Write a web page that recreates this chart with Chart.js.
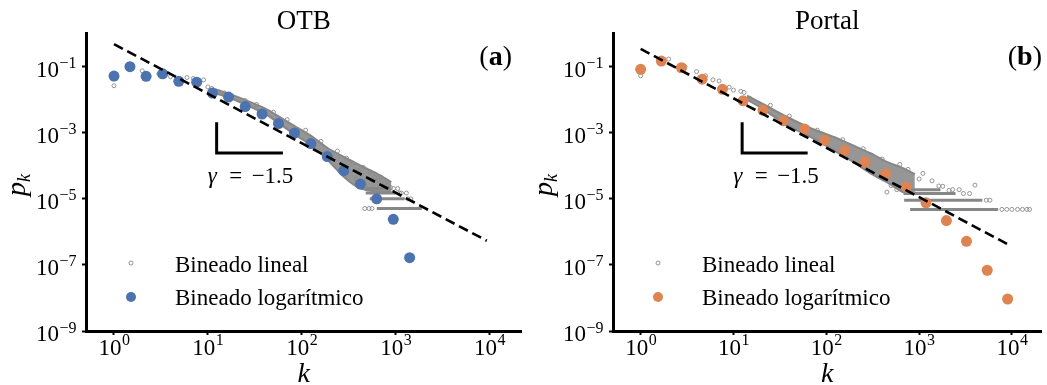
<!DOCTYPE html>
<html>
<head>
<meta charset="utf-8">
<script src="https://cdn.jsdelivr.net/npm/chart.js@4.4.0/dist/chart.umd.min.js"></script>
<style>
  html, body { margin: 0; padding: 0; background: #fff; }
  #wrap { position: relative; width: 1047px; height: 385px; overflow: hidden; }
  canvas { position: absolute; top: 0; }
</style>
</head>
<body>
<div id="wrap">
  <canvas id="otb" width="527" height="385" style="left:0"></canvas>
  <canvas id="portal" width="520" height="385" style="left:527px"></canvas>
</div>
<script>
// tick values
const xTicks = [1, 10, 100, 1000, 10000];
const yTicks = [1e-9, 1e-7, 1e-5, 1e-3, 1e-1];

// log-binned (coloured dots)
const otbLogK = [1, 1.48, 2.2, 3.3, 4.9, 7.6, 11.2, 16.6, 25, 37.8, 56.5, 83.6, 125, 187, 280, 421, 628, 944, 1409];
const otbLogP = [0.052, 0.1, 0.051, 0.061, 0.036, 0.034, 0.016, 0.012, 0.0062, 0.0037, 0.0019, 9.8e-4, 4.7e-4, 1.9e-4, 7.1e-5, 2.8e-5, 1.0e-5, 2.4e-6, 1.66e-7];
const portalLogK = [1, 1.67, 2.75, 4.6, 7.6, 12.7, 20.8, 34.6, 58.3, 96, 158, 262, 435, 728, 1187, 1969, 3242, 5420, 9000];
const portalLogP = [0.083, 0.148, 0.093, 0.042, 0.0206, 0.0093, 0.0048, 0.0023, 0.0013, 5.9e-4, 2.9e-4, 1.3e-4, 5.7e-5, 2.25e-5, 7.6e-6, 2.2e-6, 5.2e-7, 6.9e-8, 9.3e-9];

// linear binning: single visible points
const otbLinK = [1, 2, 3, 4, 5, 6, 7, 8, 9, 10, 11, 13, 15, 25, 33, 50, 70, 110, 160, 240, 300, 350,
  380, 400, 430, 450, 470, 470, 520, 560, 540, 600, 650, 700, 760, 820, 880, 950, 1050, 1100, 1150, 1300, 1350, 1450];
const otbLinP = [0.0265, 0.075, 0.06, 0.05, 0.042, 0.047, 0.044, 0.037, 0.04, 0.0245, 0.022, 0.0174, 0.016, 0.0095, 0.0072, 0.0042, 0.0025, 0.0012, 5.5e-4, 2.8e-4, 1.7e-4, 1.2e-4,
  4e-5, 7e-5, 3e-5, 9e-5, 2.5e-5, 5.1e-6, 5.1e-6, 5.1e-6, 6.5e-5, 4.5e-5, 3.5e-5, 4.5e-5, 3.0e-5, 2.6e-5, 2.2e-5, 2.05e-5, 2.05e-5, 1.5e-5, 1.5e-5, 1.5e-5, 1.0e-5, 1.0e-5];
const portalLinK = [1, 2, 3, 4, 5, 6, 7, 9, 10, 12, 13, 15, 25, 40, 80, 150, 250, 400,
  450, 500, 575, 620, 760, 1000, 1100, 1380, 1630, 1800, 2100, 2300, 2700, 3000, 3500, 4000, 5300, 5800, 7800, 8800, 10000, 11500, 13000, 14500, 15500];
const portalLinP = [0.053, 0.17, 0.1, 0.071, 0.053, 0.04, 0.037, 0.024, 0.0196, 0.018, 0.0166, 0.011, 0.0068, 0.0032, 0.0012, 6.2e-4, 3.3e-4, 1.6e-4,
  1.6e-5, 2.5e-5, 1.9e-5, 1.1e-4, 7.8e-5, 4.0e-5, 5.9e-5, 3.5e-5, 2.45e-5, 2.4e-5, 1.8e-5, 1.9e-5, 1.9e-5, 1.45e-5, 1.45e-5, 2.6e-5, 9.1e-6, 9.1e-6, 4.8e-6, 4.8e-6, 4.8e-6, 4.8e-6, 4.8e-6, 4.8e-6, 4.8e-6];

// linear binning: dense band (upper / lower edge)
const otbBandK = [12, 20, 42, 84, 130, 190, 280, 415, 620, 900];
const otbBandHi = [0.0209, 0.0126, 0.0052, 0.00158, 7.6e-4, 3.4e-4, 1.86e-4, 1.05e-4, 6.0e-5, 3.2e-5];
const otbBandLo = [0.0158, 0.0095, 0.00355, 8.9e-4, 4.0e-4, 1.48e-4, 4.7e-5, 2.1e-5, 1.66e-5, 1.66e-5];
const portalBandK = [14, 20, 38, 70, 130, 200, 300, 450, 670, 900];
const portalBandHi = [0.0132, 0.0079, 0.0030, 0.00132, 6.9e-4, 4.0e-4, 2.4e-4, 1.32e-4, 8.5e-5, 5.6e-5];
const portalBandLo = [0.01, 0.0056, 0.00166, 7.1e-4, 2.6e-4, 1.26e-4, 5.9e-5, 3.2e-5, 1.6e-5, 1.4e-5];

// linear binning: horizontal streaks at 1/N, 2/N, ...
const otbStreakP = [5.1e-6, 1.0e-5, 1.5e-5, 2.05e-5];
const otbStreakFrom = [630, 530, 480, 470];
const otbStreakTo = [1900, 1250, 1020, 850];
const portalStreakP = [4.8e-6, 9.1e-6, 1.45e-5, 1.9e-5];
const portalStreakFrom = [800, 690, 680, 650];
const portalStreakTo = [7100, 4800, 2470, 1700];

// fitted power law (dashed)
const otbFitK = [1, 9350];
const otbFitP = [0.48, 5.4e-7];
const portalFitK = [1, 9350];
const portalFitP = [0.345, 4.0e-7];

// slope marker
const slopeK = [12.4, 12.4, 63];
const slopeP = [2.1e-3, 2.43e-4, 2.43e-4];

const SERIF = "'Liberation Serif', 'DejaVu Serif', serif";
const pts = (ks, ps) => ks.map((k, i) => ({ x: k, y: ps[i] }));

const decor = {
  id: 'decor',
  afterDraw(chart, args, o) {
    const ctx = chart.ctx, xs = chart.scales.x, ys = chart.scales.y, area = chart.chartArea;
    ctx.save();
    ctx.fillStyle = '#000';
    ctx.textBaseline = 'alphabetic';
    ctx.textAlign = 'left';
    const expo = v => String(Math.round(Math.log10(v))).replace('-', '\u2212');

    xTicks.forEach(v => {
      const e = expo(v);
      ctx.font = '23px ' + SERIF; const w1 = ctx.measureText('10').width;
      ctx.font = '16px ' + SERIF; const w2 = ctx.measureText(e).width;
      const x0 = xs.getPixelForValue(v) - (w1 + w2) / 2;
      ctx.font = '23px ' + SERIF; ctx.fillText('10', x0, 355);
      ctx.font = '16px ' + SERIF; ctx.fillText(e, x0 + w1 + 0.5, 345);
    });
    yTicks.forEach(v => {
      const e = expo(v);
      const y = ys.getPixelForValue(v);
      ctx.font = '23px ' + SERIF; const w1 = ctx.measureText('10').width;
      ctx.font = '16px ' + SERIF; const w2 = ctx.measureText(e).width;
      const x0 = 76 - w1 - w2;
      ctx.font = '23px ' + SERIF; ctx.fillText('10', x0, y + 10.3);
      ctx.font = '16px ' + SERIF; ctx.fillText(e, x0 + w1 + 0.5, y + 1.5);
    });

    // title
    ctx.textAlign = 'center';
    ctx.font = '27px ' + SERIF;
    ctx.fillText(o.title, (area.left + area.right) / 2, 29);

    // panel letter
    ctx.textAlign = 'left';
    ctx.font = '28px ' + SERIF; const wp = ctx.measureText('(').width, wq = ctx.measureText(')').width;
    ctx.font = 'bold 28px ' + SERIF; const wl = ctx.measureText(o.letter).width;
    let lx = o.letterRight - wp - wl - wq;
    ctx.font = '28px ' + SERIF; ctx.fillText('(', lx, 65);
    ctx.font = 'bold 28px ' + SERIF; ctx.fillText(o.letter, lx + wp, 65);
    ctx.font = '28px ' + SERIF; ctx.fillText(')', lx + wp + wl, 65);

    // x label
    ctx.textAlign = 'center';
    ctx.font = 'italic 28px ' + SERIF;
    ctx.fillText('k', (area.left + area.right) / 2, 382);

    // y label
    ctx.save();
    ctx.translate(25, 185);
    ctx.rotate(-Math.PI / 2);
    ctx.textAlign = 'left';
    ctx.font = 'italic 28px ' + SERIF;
    ctx.fillText('p', -11, 0);
    const pw = ctx.measureText('p').width;
    ctx.font = 'italic 18px ' + SERIF;
    ctx.fillText('k', -11 + pw, 5);
    ctx.restore();

    // slope label
    const cx = xs.getPixelForValue(slopeK[1]), cy = ys.getPixelForValue(slopeP[1]);
    ctx.textAlign = 'left';
    ctx.font = 'italic 23px ' + SERIF;
    ctx.fillText('\u03b3', cx - 9, cy + 30);
    ctx.font = '23px ' + SERIF;
    ctx.textAlign = 'center';
    ctx.fillText('=', cx + 19, cy + 30);
    ctx.textAlign = 'left';
    ctx.fillText('\u22121.5', cx + 35, cy + 30);

    // legend
    ctx.beginPath();
    ctx.arc(131, 263, 2, 0, Math.PI * 2);
    ctx.strokeStyle = '#8a8a8a'; ctx.lineWidth = 0.9; ctx.stroke();
    ctx.beginPath();
    ctx.arc(131, 297, 5, 0, Math.PI * 2);
    ctx.fillStyle = o.color; ctx.fill();
    ctx.fillStyle = '#000';
    ctx.font = '23px ' + SERIF;
    ctx.fillText('Bineado lineal', 175, 272);
    ctx.fillText('Bineado logar\u00edtmico', 175, 305);
    ctx.restore();
  }
};

function makePanel(id, cfg) {
  const gray = '#878787';
  const datasets = [
    { data: pts(cfg.bandK, cfg.bandHi), borderColor: gray, backgroundColor: 'rgba(135,135,135,0.88)', borderWidth: 2, pointRadius: 0, fill: '+1', order: 6, tension: 0.2 },
    { data: pts(cfg.bandK, cfg.bandLo), borderColor: gray, borderWidth: 2, pointRadius: 0, fill: false, order: 6, tension: 0.2 }
  ];
  cfg.streakP.forEach((p, i) => {
    datasets.push({ data: [{ x: cfg.streakFrom[i], y: p }, { x: cfg.streakTo[i], y: p }], borderColor: gray, borderWidth: 3, pointRadius: 0, fill: false, order: 5 });
  });
  datasets.push({ label: 'Bineado lineal', data: pts(cfg.linK, cfg.linP), showLine: false, pointRadius: 2, pointBorderWidth: 0.9, pointBorderColor: '#8a8a8a', pointBackgroundColor: 'rgba(0,0,0,0)', order: 4 });
  datasets.push({ label: 'Bineado logarítmico', data: pts(cfg.logK, cfg.logP), showLine: false, pointRadius: 5.5, pointBorderWidth: 0, pointBackgroundColor: cfg.color, order: 2 });
  datasets.push({ data: pts(cfg.fitK, cfg.fitP), borderColor: '#000', borderWidth: 2.6, borderDash: [10, 5], pointRadius: 0, fill: false, order: 1 });
  datasets.push({ data: pts(slopeK, slopeP), borderColor: '#000', borderWidth: 3, pointRadius: 0, fill: false, order: 1, borderJoinStyle: 'miter' });

  new Chart(document.getElementById(id), {
    type: 'line',
    data: { datasets },
    options: {
      responsive: false,
      animation: false,
      devicePixelRatio: 1,
      layout: { padding: { top: 33, right: cfg.padRight, bottom: 0, left: 0 } },
      plugins: {
        legend: { display: false },
        tooltip: { enabled: false },
        decor: { title: cfg.title, letter: cfg.letter, letterRight: cfg.letterRight, color: cfg.color }
      },
      scales: {
        x: {
          type: 'logarithmic', min: 0.5035, max: cfg.xMax,
          afterBuildTicks: s => { s.ticks = xTicks.map(v => ({ value: v })); },
          afterFit: s => { s.height = 54; },
          ticks: { display: false },
          grid: { display: true, drawOnChartArea: false, drawTicks: true, tickLength: 4, tickWidth: 2, tickColor: '#000' },
          border: { display: true, color: '#000', width: 3 }
        },
        y: {
          type: 'logarithmic', min: 1e-9, max: 1.047,
          afterBuildTicks: s => { s.ticks = yTicks.map(v => ({ value: v })); },
          afterFit: s => { s.width = 86; },
          ticks: { display: false },
          grid: { display: true, drawOnChartArea: false, drawTicks: true, tickLength: 4, tickWidth: 2, tickColor: '#000' },
          border: { display: true, color: '#000', width: 3 }
        }
      }
    },
    plugins: [decor]
  });
}

makePanel('otb', {
  title: 'OTB', letter: 'a', letterRight: 512, color: '#4c72b0', padRight: 5, xMax: 21900,
  logK: otbLogK, logP: otbLogP, linK: otbLinK, linP: otbLinP,
  bandK: otbBandK, bandHi: otbBandHi, bandLo: otbBandLo,
  streakP: otbStreakP, streakFrom: otbStreakFrom, streakTo: otbStreakTo,
  fitK: otbFitK, fitP: otbFitP
});
makePanel('portal', {
  title: 'Portal', letter: 'b', letterRight: 515, color: '#dd8452', padRight: 0, xMax: 20840,
  logK: portalLogK, logP: portalLogP, linK: portalLinK, linP: portalLinP,
  bandK: portalBandK, bandHi: portalBandHi, bandLo: portalBandLo,
  streakP: portalStreakP, streakFrom: portalStreakFrom, streakTo: portalStreakTo,
  fitK: portalFitK, fitP: portalFitP
});
</script>
</body>
</html>
